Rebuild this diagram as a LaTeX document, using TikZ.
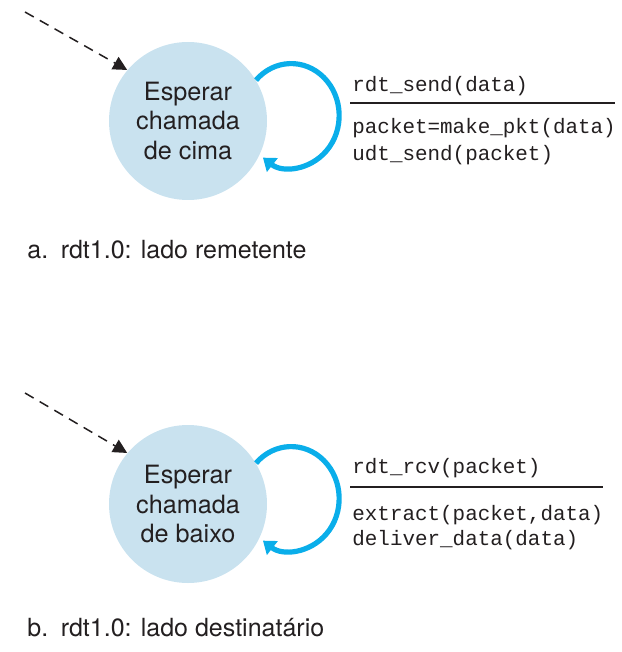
\documentclass[tikz,border=0pt]{standalone}
\usepackage{fontspec}
\setmainfont{TeX Gyre Heros}
\setmonofont{Liberation Mono}
\usetikzlibrary{arrows.meta}
\definecolor{statefill}{HTML}{C9E2EF}
\definecolor{loopblue}{HTML}{0AAEEA}
\definecolor{ink}{HTML}{231F20}
\tikzset{
  state/.style={circle, fill=statefill, minimum size=79pt, inner sep=0pt, align=center,
    text=ink, font=\fontsize{12.6}{14.75}\selectfont},
  initarrow/.style={draw=ink, line width=0.75pt, dash pattern=on 5pt off 3.5pt,
    -{Triangle[length=7pt,width=7pt]}},
  selfloop/.style={draw=loopblue, line width=2.6pt, -{Triangle[length=6pt,width=8.5pt]}},
  code/.style={anchor=base west, inner sep=0pt, text=ink, font=\fontsize{10.45}{12}\ttfamily},
  rule/.style={draw=ink, line width=1pt},
  caption/.style={anchor=base west, inner sep=0pt, text=ink, font=\fontsize{12.5}{14}\selectfont}
}
\begin{document}
\begin{tikzpicture}[x=0.5pt,y=0.5pt]
\useasboundingbox (0,0) rectangle (621,-652);
% ---------- (a) sender ----------
\node[state] (s1) at (188,-121) {Esperar\\chamada\\de cima};
\coordinate (d1) at (25,-12);
\draw[initarrow] (d1) -- (s1.140);
\draw[selfloop] (s1.31) arc[start angle=137, end angle=-126, x radius=48, y radius=52];
\node[code] (t1) at (352,-92) {rdt\_send(data)};
\coordinate (l1a) at (350,-103);
\coordinate (l1b) at (615,-103);
\draw[rule] (l1a) -- (l1b);
\node[code] (t1a) at (352,-134) {packet=make\_pkt(data)};
\node[code] (t1b) at (352,-161) {udt\_send(packet)};
\node[caption] (ca) at (27,-258) {a.\hspace{0.5em}rdt1.0: lado remetente};
% ---------- (b) receiver ----------
\node[state] (s2) at (188,-504) {Esperar\\chamada\\de baixo};
\coordinate (d2) at (25,-393);
\draw[initarrow] (d2) -- (s2.140);
\draw[selfloop] (s2.31) arc[start angle=137, end angle=-126, x radius=48, y radius=52];
\node[code] (t2) at (352,-473) {rdt\_rcv(packet)};
\coordinate (l2a) at (350,-487);
\coordinate (l2b) at (603,-487);
\draw[rule] (l2a) -- (l2b);
\node[code] (t2a) at (352,-520) {extract(packet,data)};
\node[code] (t2b) at (352,-545) {deliver\_data(data)};
\node[caption] (cb) at (27,-636) {b.\hspace{0.5em}rdt1.0: lado destinatário};
\end{tikzpicture}
\end{document}
